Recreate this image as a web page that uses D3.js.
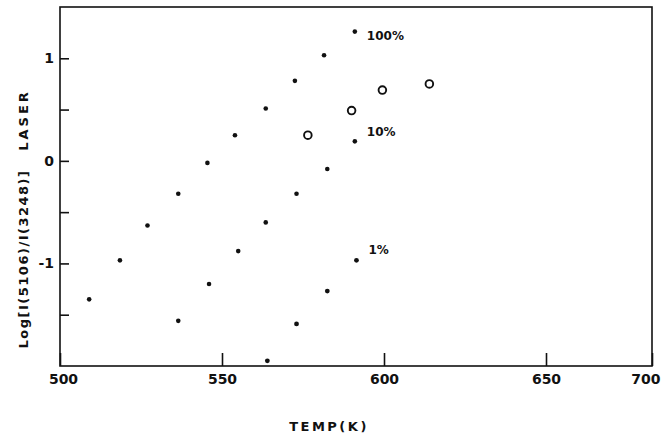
<!DOCTYPE html>
<html>
<head>
<meta charset="utf-8">
<script src="https://cdn.jsdelivr.net/npm/d3@7"></script>
<style>
    body { margin: 0; background: #fff; }
    svg text { font-family: "DejaVu Sans", sans-serif; fill: #111; }
</style>
</head>
<body>
<svg id="svg1" width="661" height="434"></svg>
<script>
// series (temperature in K, log ratio)
let temp100 = [509, 518.5, 527, 536.5, 545.5, 554, 563.5, 572.5, 581.5, 591];
let log100 = [-1.35, -0.97, -0.63, -0.32, -0.02, 0.25, 0.51, 0.78, 1.03, 1.26];
let temp10 = [536.5, 546, 555, 563.5, 573, 582.5, 591];
let log10 = [-1.56, -1.2, -0.88, -0.6, -0.32, -0.08, 0.19];
let temp1 = [564, 573, 582.5, 591.5];
let log1 = [-1.95, -1.59, -1.27, -0.97];
let tempOpen = [576.5, 590, 599.5, 614];
let logOpen = [0.25, 0.49, 0.69, 0.75];
let xTicks = [500, 550, 600, 650, 700];
let yTicks = [-1.5, -1, -0.5, 0, 0.5, 1];
let seriesLabels = ["100%", "10%", "1%"];

window.onload = function () {
    var svg = d3.select("#svg1");
    var left = 60, right = 652, top = 7, bottom = 366;

    // the scanned axis is not quite even, so the x scale is piecewise
    var x = d3.scaleLinear().domain(xTicks).range([60, 222, 384, 546, right]);
    var y = d3.scaleLinear().domain([-2, 1.5]).range([bottom, top]);

    svg.append("rect")
        .attr("x", left).attr("y", top)
        .attr("width", right - left).attr("height", bottom - top)
        .attr("fill", "none").attr("stroke", "#111").attr("stroke-width", 1.6);

    var xAxis = svg.append("g").attr("transform", "translate(0," + bottom + ")")
        .call(d3.axisBottom(x).tickValues(xTicks).tickSizeInner(-13).tickSizeOuter(0).tickPadding(5)
            .tickFormat(function (d) { return d; }));
    xAxis.select(".domain").remove();
    xAxis.selectAll("line").attr("stroke", "#111").attr("stroke-width", 1.6);
    xAxis.selectAll("text").attr("font-size", 14).attr("font-weight", "bold").attr("fill", "#111")
        .attr("dy", "0.9em");
    xAxis.selectAll(".tick").filter(function (d) { return d == 500; }).select("text").attr("dx", 3);
    xAxis.selectAll(".tick").filter(function (d) { return d == 700; }).select("text")
        .attr("text-anchor", "end").attr("dx", 8);

    var yAxis = svg.append("g").attr("transform", "translate(" + left + ",0)")
        .call(d3.axisLeft(y).tickValues(yTicks).tickSizeInner(-9).tickSizeOuter(0).tickPadding(6)
            .tickFormat(function (d) { return d % 1 == 0 ? d : ""; }));
    yAxis.select(".domain").remove();
    yAxis.selectAll("line").attr("stroke", "#111").attr("stroke-width", 1.6);
    yAxis.selectAll("text").attr("font-size", 14).attr("font-weight", "bold").attr("fill", "#111")
        .text(function (d) { return d == -1 ? "-1" : (d % 1 == 0 ? d : ""); });

    // small filled dots
    function dots(xs, ys, r) {
        svg.append("g").selectAll("circle").data(xs).enter().append("circle")
            .attr("cx", function (d) { return x(d); })
            .attr("cy", function (d, i) { return y(ys[i]); })
            .attr("r", r).attr("fill", "#111");
    }
    dots(temp100, log100, 2.3);
    dots(temp10, log10, 2.3);
    dots(temp1, log1, 2.4);

    svg.append("g").selectAll("circle").data(tempOpen).enter().append("circle")
        .attr("cx", function (d) { return x(d); })
        .attr("cy", function (d, i) { return y(logOpen[i]); })
        .attr("r", 3.8).attr("fill", "none").attr("stroke", "#111").attr("stroke-width", 1.9);

    // series labels next to the last point of each series
    var ends = [
        [temp100[temp100.length - 1], log100[log100.length - 1], 4],
        [temp10[temp10.length - 1], log10[log10.length - 1], -10],
        [temp1[temp1.length - 1], log1[log1.length - 1], -11]
    ];
    svg.append("g").selectAll("text").data(seriesLabels).enter().append("text")
        .attr("x", function (d, i) { return x(ends[i][0]) + 12; })
        .attr("y", function (d, i) { return y(ends[i][1]) + ends[i][2]; })
        .attr("dy", "0.35em")
        .attr("font-size", 12).attr("font-weight", "bold")
        .text(function (d) { return d; });

    svg.append("text")
        .attr("x", 329).attr("y", 431)
        .attr("text-anchor", "middle")
        .attr("font-size", 13).attr("font-weight", "bold").attr("letter-spacing", 2.5)
        .text("TEMP(K)");

    svg.append("text")
        .attr("transform", "translate(28,120) rotate(-90)")
        .attr("text-anchor", "middle")
        .attr("font-size", 13).attr("font-weight", "bold").attr("letter-spacing", 3)
        .text("LASER");

    svg.append("text")
        .attr("transform", "translate(28,259) rotate(-90)")
        .attr("text-anchor", "middle")
        .attr("font-size", 13).attr("font-weight", "bold").attr("letter-spacing", 1.5)
        .text("Log[I(5106)/I(3248)]");
}
</script>
</body>
</html>
